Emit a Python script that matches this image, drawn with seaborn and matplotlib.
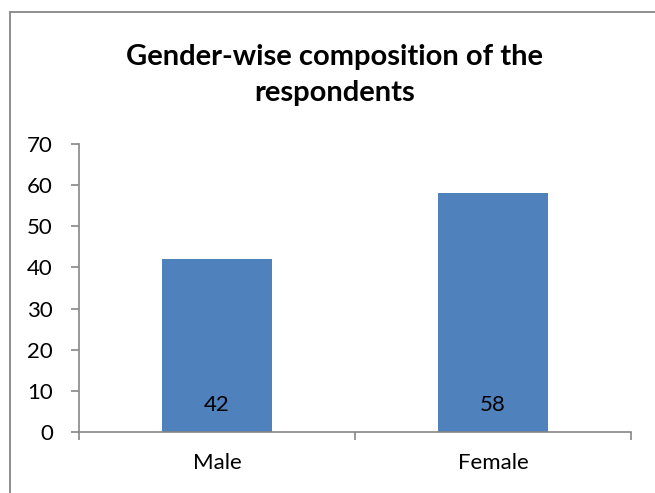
import matplotlib
matplotlib.use("Agg")
import matplotlib.pyplot as plt
import seaborn as sns
import pandas as pd
from matplotlib.patches import Rectangle

categories = ["Male", "Female"]
values = [42, 58]
title = "Gender-wise composition of the\nrespondents"
yticks = [0, 10, 20, 30, 40, 50, 60, 70]

sns.set_theme(style="white")
plt.rcParams['font.family'] = ['Lato', 'DejaVu Sans']

df = pd.DataFrame({"Gender": categories, "Count": values})

fig = plt.figure(figsize=(6.55, 4.93), dpi=100)
ax = fig.add_axes([79/655, 1-432/493, (631-79)/655, (432-144)/493])

sns.barplot(data=df, x="Gender", y="Count", color="#4F81BD", width=0.4,
            saturation=1, ax=ax, edgecolor="none")

gray = "#868686"
ax.set_ylim(0, 70)
ax.set_xlim(-0.5, 1.5)
ax.set_yticks(yticks)
ax.set_yticklabels([str(t) for t in yticks], fontsize=16)
ax.set_xticks(range(len(categories)))
ax.set_xticklabels(categories, fontsize=16)
ax.set_xticks([-0.5, 0.5, 1.5], minor=True)
ax.tick_params(axis="x", which="major", bottom=True, length=0, pad=15, colors="black")
ax.tick_params(axis="x", which="minor", bottom=True, length=5.8, width=1.2, color=gray, direction="out")
ax.tick_params(axis="y", which="major", left=True, length=5.8, width=1.2, color=gray,
               direction="out", pad=13, labelcolor="black")
ax.set_xlabel("")
ax.set_ylabel("")
for s in ["top", "right"]:
    ax.spines[s].set_visible(False)
for s in ["left", "bottom"]:
    ax.spines[s].set_color(gray)
    ax.spines[s].set_linewidth(1.2)
ax.grid(False)

for i, v in enumerate(values):
    ax.annotate(str(v), xy=(i, 0), xytext=(0, 19.4), textcoords="offset points",
                ha="center", va="center", fontsize=16, color="black")

fig.text(335/655, 1-75/493, title, ha="center", va="center", fontsize=21,
         fontweight="bold", linespacing=1.45, color="black")

fig.patches.append(Rectangle((10/655, -0.1), 1.2, 1-12/493+0.1, transform=fig.transFigure,
                             fill=False, edgecolor=gray, linewidth=1.3))

fig.savefig("out.png", dpi=100)
